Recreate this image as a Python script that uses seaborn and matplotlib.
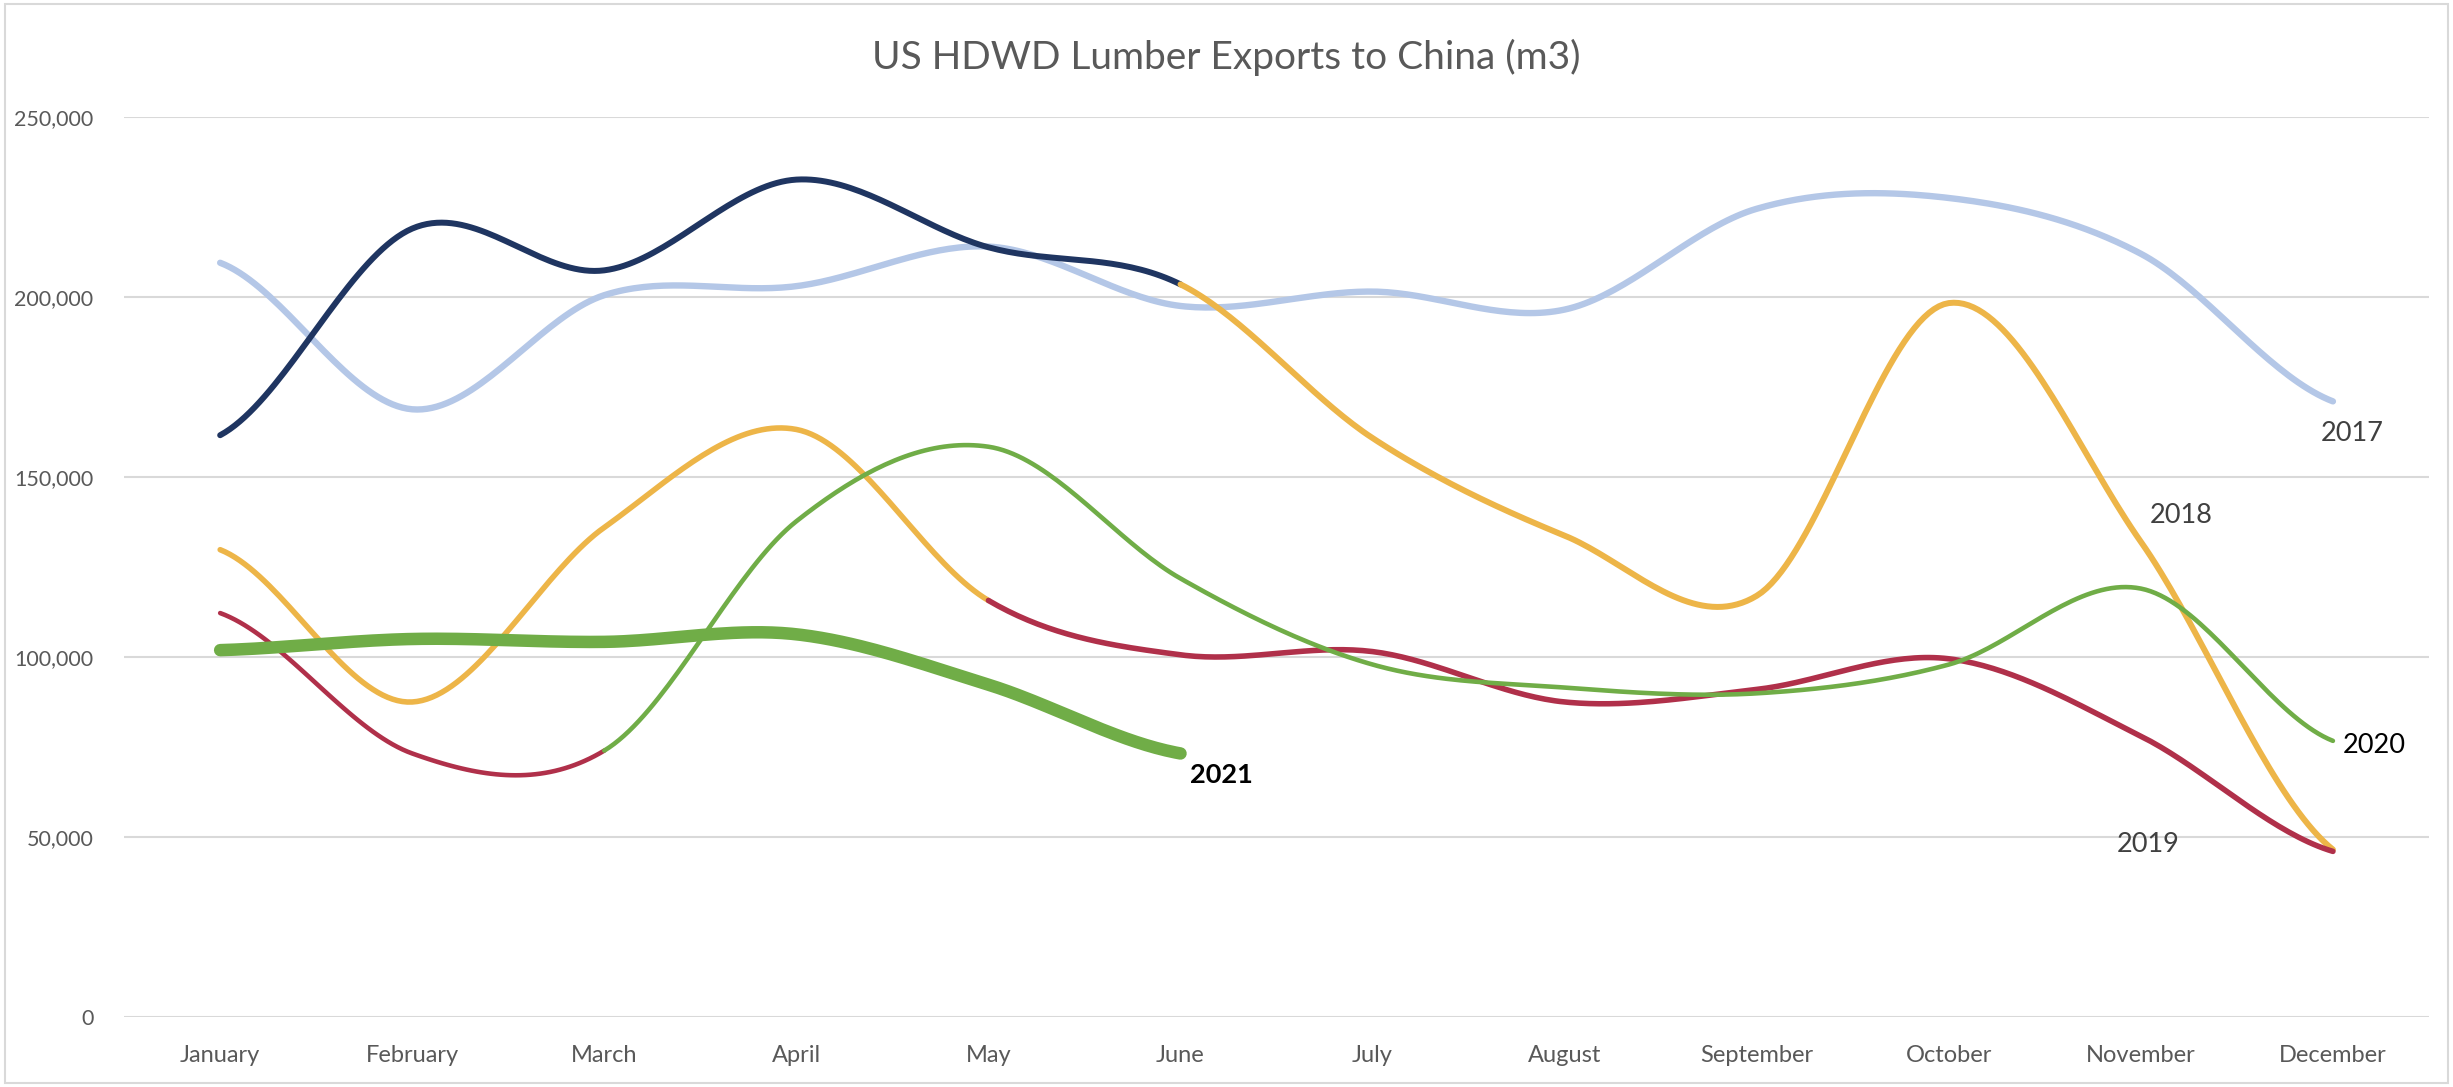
import numpy as np
import pandas as pd
import matplotlib
matplotlib.use("Agg")
import matplotlib.pyplot as plt
import seaborn as sns

# ========== Data ==========

months = ['January', 'February', 'March', 'April', 'May', 'June',
          'July', 'August', 'September', 'October', 'November', 'December']

exports_2017 = [209500, 168800, 200500, 203000, 214000, 197500,
                201500, 196500, 224500, 227500, 212000, 171000]
exports_2018 = [161600, 219000, 207400, 232600, 213800, 203500,
                160800, 133700, 117000, 198300, 132000, 46500]
exports_2019 = [129800, 87500, 136000, 163200, 115700, 100600,
                101500, 87500, 91000, 99500, 78000, 46000]
exports_2020 = [112200, 73200, 74000, 137700, 158400, 121800,
                97900, 91500, 89900, 97900, 119000, 76700]
exports_2021 = [101900, 105000, 104200, 106300, 92300, 73200]

y_ticks = [0, 50000, 100000, 150000, 200000, 250000]

# ========== Style ==========

LIGHT_BLUE = '#B4C7E7'
NAVY = '#1F3561'
GOLD = '#EDB548'
RED = '#B0304A'
GREEN = '#70AD47'
GRID = '#D9D9D9'
TEXT = '#595959'

sns.set_theme(style='white')
plt.rcParams['font.family'] = ['Lato', 'DejaVu Sans']

# (series, [(start month idx, end month idx, colour)], linewidth)
series_styles = [
    (exports_2017, [(0, 11, LIGHT_BLUE)], 4.6),
    (exports_2018, [(0, 5, NAVY), (5, 11, GOLD)], 4.3),
    (exports_2019, [(0, 4, GOLD), (4, 11, RED)], 4.0),
    (exports_2020, [(0, 2, RED), (2, 11, GREEN)], 3.3),
    (exports_2021, [(0, 5, GREEN)], 9.0),
]


def smooth_segment(values, i0, i1, n=40):
    """Catmull-Rom curve through the points (like Excel's smoothed line)."""
    v = np.asarray(values, dtype=float)
    xs, ys = [], []
    t = np.linspace(0, 1, n)
    for i in range(i0, i1):
        p1, p2 = v[i], v[i + 1]
        p0 = v[i - 1] if i > 0 else p1
        p3 = v[i + 2] if i + 2 < len(v) else p2
        m1 = (p2 - p0) / 2
        m2 = (p3 - p1) / 2
        h00 = 2 * t**3 - 3 * t**2 + 1
        h10 = t**3 - 2 * t**2 + t
        h01 = -2 * t**3 + 3 * t**2
        h11 = t**3 - t**2
        xs.append(i + t)
        ys.append(h00 * p1 + h10 * m1 + h01 * p2 + h11 * m2)
    return np.concatenate(xs), np.concatenate(ys)


fig = plt.figure(figsize=(24.53, 10.87), dpi=100)
ax = fig.add_axes([0.0506, 0.0644, 0.9396, 0.828])

for values, segments, lw in series_styles:
    for i0, i1, color in segments:
        sx, sy = smooth_segment(values, i0, i1)
        curve = pd.DataFrame({'x': sx, 'y': sy})
        sns.lineplot(data=curve, x='x', y='y', color=color, linewidth=lw,
                     estimator=None, sort=False, ax=ax,
                     solid_capstyle='round')

# ========== Axes ==========

ax.set_xlim(-0.5, len(months) - 0.5)
ax.set_ylim(0, 250000)
ax.set_xticks(range(len(months)))
ax.set_xticklabels(months)
ax.set_yticks(y_ticks)
ax.set_yticklabels([f'{v:,}' for v in y_ticks])
ax.tick_params(axis='both', length=0, labelcolor=TEXT)
ax.tick_params(axis='x', pad=20, labelsize=17)
ax.tick_params(axis='y', pad=22, labelsize=15.5)
ax.set_xlabel('')
ax.set_ylabel('')
ax.grid(axis='y', color=GRID, linewidth=1.5)
ax.set_axisbelow(True)
for side in ax.spines.values():
    side.set_visible(False)

# series labels
ax.text(11.1, 162000, '2017', fontsize=19.5, color='#404040', ha='center', va='center')
ax.text(10.21, 139400, '2018', fontsize=19.5, color='#404040', ha='center', va='center')
ax.text(10.04, 47800, '2019', fontsize=19.5, color='#404040', ha='center', va='center')
ax.text(11.05, 75300, '2020', fontsize=19.5, color='black', ha='left', va='center')
ax.text(5.05, 67200, '2021', fontsize=19.5, color='black', ha='left', va='center',
        fontweight='bold')

fig.text(0.5, 0.947, 'US HDWD Lumber Exports to China (m3)', fontsize=28,
         color=TEXT, ha='center', va='center')

# chart border
fig.add_artist(plt.Rectangle((0.002, 0.004), 0.996, 0.992, transform=fig.transFigure,
                             fill=False, edgecolor='#D9D9D9', linewidth=1.5))

fig.savefig('out.png', dpi=100)
